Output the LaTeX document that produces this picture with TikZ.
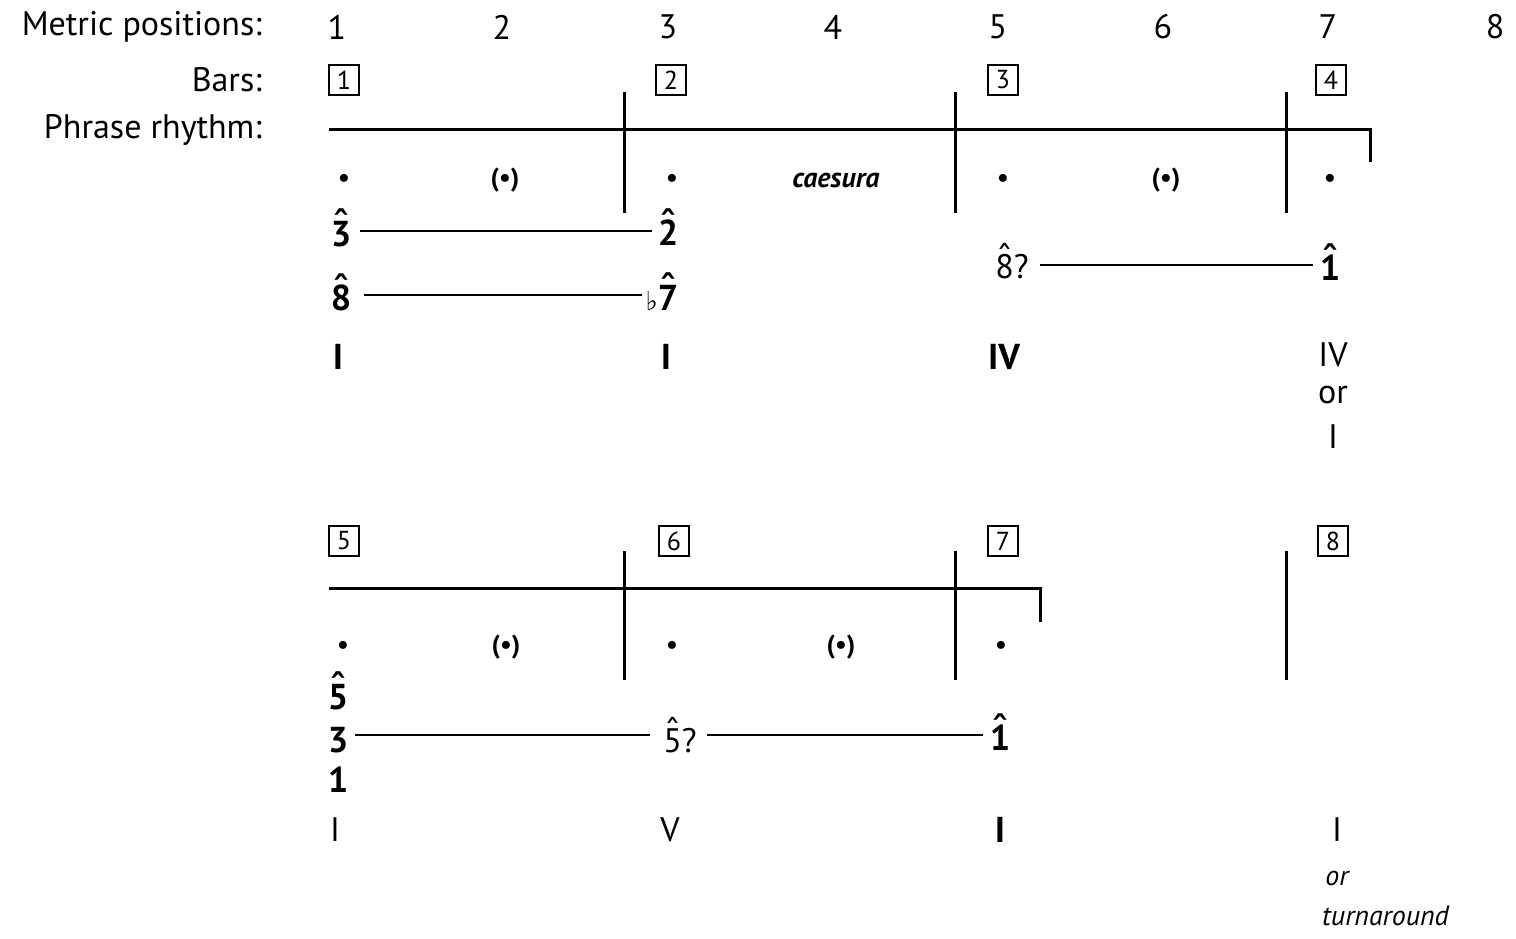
\documentclass[tikz,border=0pt]{standalone}
\usepackage{fontspec}
\setmainfont{PT Sans}
\newfontfamily\dvs{DejaVu Sans}
\newcommand\sdb[1]{\ooalign{\textbf{#1}\cr\hfil\smash{\raisebox{0.24em}{\dvs\bfseries ˆ}}\hfil\cr}}
\newcommand\sdr[1]{\ooalign{#1\cr\hfil\smash{\raisebox{0.24em}{\dvs ˆ}}\hfil\cr}}
\begin{document}
\begin{tikzpicture}[x=1pt,y=-1pt,
  every node/.style={font=\fontsize{34}{38}\selectfont,inner sep=0pt},
  lab/.style={anchor=east},
  bx/.style={draw,line width=2.2pt,minimum size=30pt,font=\fontsize{26}{28}\selectfont},
  ln/.style={line width=3pt},
  thin/.style={line width=1.5pt},
  dt/.style={font=\fontsize{26}{28}\selectfont\bfseries},
  B/.style={font=\fontsize{36}{40}\selectfont\bfseries},
  it/.style={font=\fontsize{28}{32}\selectfont\itshape}]
\useasboundingbox (0,0) rectangle (1516,939);
\node[lab] (l1) at (262,27) {Metric positions:};
\node[lab] (l2) at (262,80) {Bars:};
\node[lab] (l3) at (262,130) {Phrase rhythm:};
\foreach \n/\x in {1/337,2/502,3/668,4/833,5/998,6/1163,7/1328,8/1495}
  \node (m\n) at (\x,27) {\n};
\foreach \n/\x/\y in {1/344/80,2/671/80,3/1003/80,4/1331/80,5/344/541,6/674/541,7/1003/541,8/1333/541}
  \node[bx] (b\n) at (\x,\y) {\n};
% top system
\coordinate (ta) at (329,130); \coordinate (tb) at (1370,130); \coordinate (tc) at (1370,162);
\draw[ln] (ta) -- (tb) -- (tc);
\foreach \x in {624,955,1286} \draw[ln] (\x,92) -- (\x,213);
\foreach \x in {344,672,1003,1330} \node[dt] at (\x,180) {•};
\foreach \x in {505,1166} \node[dt] at (\x,180) {(•)};
\node[font=\fontsize{28}{32}\selectfont\bfseries\itshape] (cae) at (836,180) {caesura};
\node[B] (s3) at (341,234) {\sdb{3}};
\node[B] (s2) at (668,233) {\sdb{2}};
\draw[thin] (360,231) -- (652,231);
\node[B] (s8) at (341,298) {\sdb{8}};
\node[B] (s7) at (662,298) {{\mdseries\dvs\fontsize{26}{28}\selectfont ♭}\sdb{7}};
\draw[thin] (364,295) -- (642,295);
\node (s8q) at (1012,267) {\sdr{8}?};
\node[B] (s1) at (1330,268) {\sdb{1}};
\draw[thin] (1040,265) -- (1313,265);
\node[B] at (338,357) {I};
\node[B] at (666,357) {I};
\node[B] at (1004,357) {IV};
\node at (1333,355) {IV};
\node at (1333,395) {or};
\node at (1333,437) {I};
% bottom system
\coordinate (ba) at (329,588); \coordinate (bb) at (1040,588); \coordinate (bc) at (1040,622);
\draw[ln] (ba) -- (bb) -- (bc);
\foreach \x in {624,955,1286} \draw[ln] (\x,551) -- (\x,680);
\foreach \x in {343,672,1001} \node[dt] at (\x,647) {•};
\foreach \x in {506,841} \node[dt] at (\x,647) {(•)};
\node[B] at (338,697) {\sdb{5}};
\node[B] at (338,740) {3};
\node[B] at (338,780) {1};
\draw[thin] (355,735) -- (650,735);
\node (q5) at (680,741) {\sdr{5}?};
\draw[thin] (707,735) -- (983,735);
\node[B] at (1000,738) {\sdb{1}};
\node at (335,830) {I};
\node at (670,830) {V};
\node[B] at (1000,830) {I};
\node at (1337,830) {I};
\node[it] at (1337,878) {or};
\node[it,anchor=west] at (1322,916) {turnaround};
\end{tikzpicture}
\end{document}
